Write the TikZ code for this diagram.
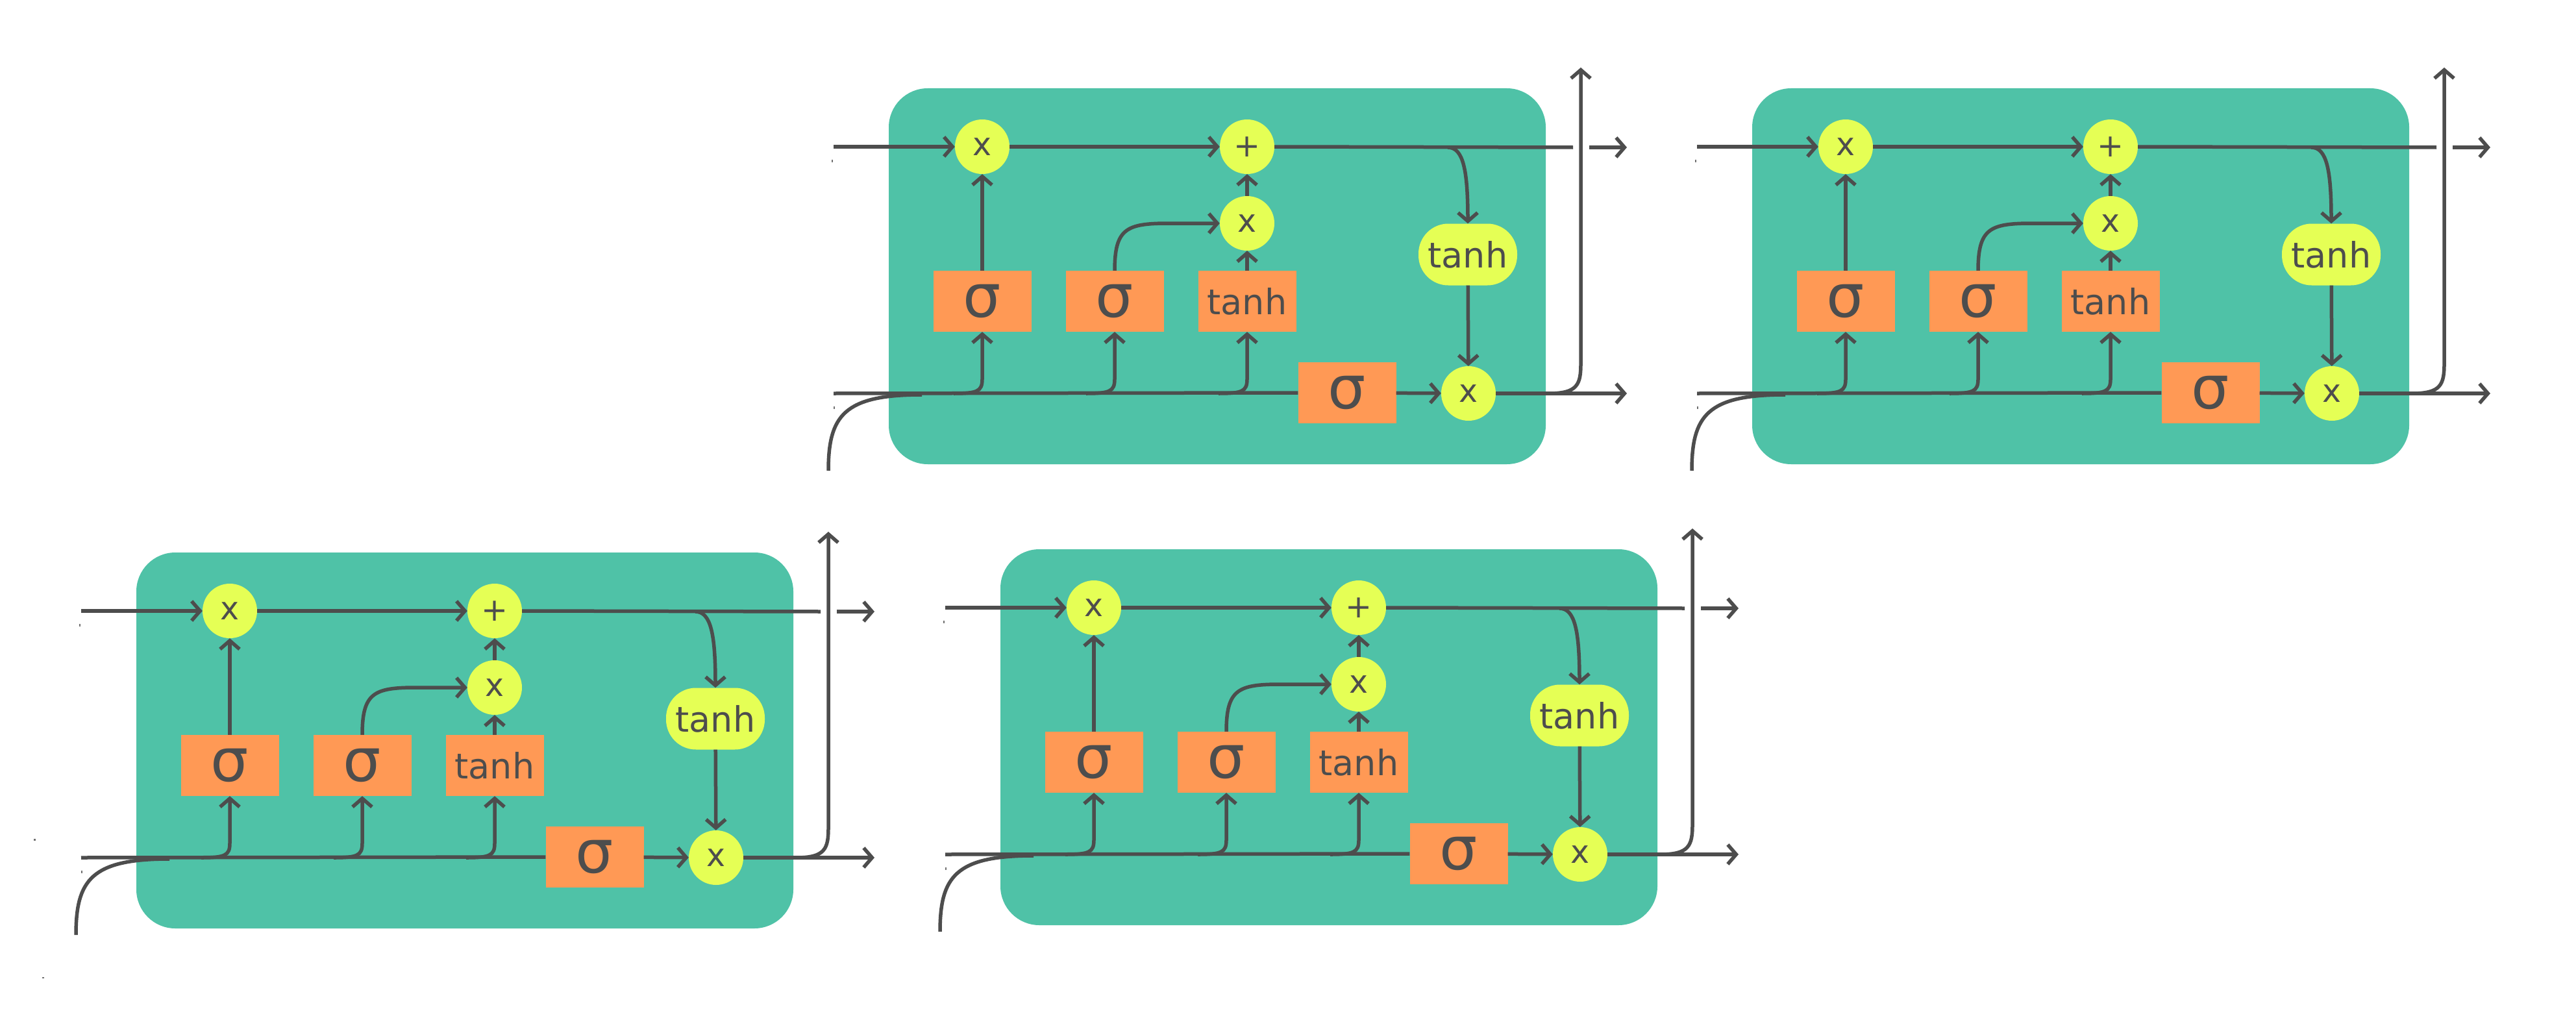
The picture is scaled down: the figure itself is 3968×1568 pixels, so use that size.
\documentclass[tikz,border=0pt]{standalone}
\usepackage{fontspec}
\setmainfont{DejaVu Sans}
\usetikzlibrary{arrows.meta}
\definecolor{cellteal}{HTML}{4FC2A7}
\definecolor{gateorange}{HTML}{FF9955}
\definecolor{opyellow}{HTML}{E5FF55}
\definecolor{inkgrey}{HTML}{4D4D4D}
\tikzset{
  cellbox/.style={fill=cellteal, rounded corners=60pt},
  opnode/.style={circle, fill=opyellow, minimum size=84pt, inner sep=0pt, text=inkgrey, font=\fontsize{49}{49}\selectfont},
  gatebox/.style={rectangle, fill=gateorange, minimum width=151pt, minimum height=94pt, inner sep=0pt, text=inkgrey},
  siglabel/.style={font=\fontsize{92}{92}\selectfont},
  tanhlabel/.style={font=\fontsize{54}{54}\selectfont},
  actnode/.style={rectangle, rounded corners=46pt, fill=opyellow, minimum width=152pt, minimum height=95pt, inner sep=0pt, text=inkgrey, font=\fontsize{54}{54}\selectfont},
  flow/.style={draw=inkgrey, line width=5.5pt, -{Straight Barb[length=13pt,width=30pt]}},
  plain/.style={draw=inkgrey, line width=5.5pt},
  speck/.style={fill=inkgrey!80}
}
\newcommand\lstmcell[3]{%
\begin{scope}[shift={(#2,#3)}]
  \fill[cellbox] (1369,136) rectangle (2381,715);
  \node[opnode] (#1fx) at (1513,226) {x};
  \node[opnode] (#1pl) at (1921,226) {+};
  \node[opnode] (#1ix) at (1921,344) {x};
  \node[gatebox,siglabel] (#1s1) at (1513,464) {σ};
  \node[gatebox,siglabel] (#1s2) at (1717,464) {σ};
  \node[gatebox,tanhlabel] (#1tb) at (1921,464) {tanh};
  \node[gatebox,siglabel] (#1s3) at (2075,605) {σ};
  \node[opnode] (#1ox) at (2262,606) {x};
  \node[actnode] (#1th) at (2261,392) {tanh};
  \coordinate (#1inU) at (1284,226);
  \coordinate (#1inL) at (1284,606);
  \coordinate (#1gapL) at (2423,227);
  \coordinate (#1gapR) at (2448,227);
  \coordinate (#1outU) at (2506,227);
  \coordinate (#1outL) at (2506,606);
  \coordinate (#1outV) at (2435,104);
  \coordinate (#1upS) at (2386,606);
  \coordinate (#1brU) at (2230,227);
  \coordinate (#1curS) at (1276,725);
  \coordinate (#1curE) at (1420,608);
  \coordinate (#1t1) at (1469,606);
  \coordinate (#1t2) at (1673,606);
  \coordinate (#1t3) at (1877,606);
  \fill[speck] (1281,246) rectangle (1283,250);
  \fill[speck] (1284,626) rectangle (1286,630);
  % connectors
  \draw[flow] (#1inU) -- (#1fx);
  \draw[flow] (#1fx) -- (#1pl);
  \draw[flow] (#1s1) -- (#1fx);
  \draw[flow] (#1ix) -- (#1pl);
  \draw[flow] (#1tb) -- (#1ix);
  \draw[flow] (#1s2.north) .. controls (1717,352) and (1735,344) .. (1800,344) -- (#1ix.west);
  \draw[plain] (#1pl.east) -- (#1gapL);
  \draw[flow] (#1gapR) -- (#1outU);
  \draw[flow] (#1brU) .. controls (2254,227) and (2261,262) .. (#1th.north);
  \draw[flow] (#1th) -- (#1ox);
  \draw[plain] (#1inL) -- (#1s3.west);
  \draw[flow] (#1s3) -- (#1ox);
  \draw[flow] (#1ox) -- (#1outL);
  \draw[flow] (#1upS) .. controls (2430,606) and (2435,592) .. (2435,560) -- (#1outV);
  \draw[plain] (#1curS) .. controls (1276,640) and (1300,608) .. (#1curE);
  \draw[flow] (#1t1) .. controls (1505,606) and (1513,603) .. (1513,584) -- (#1s1.south);
  \draw[flow] (#1t2) .. controls (1709,606) and (1717,603) .. (1717,584) -- (#1s2.south);
  \draw[flow] (#1t3) .. controls (1913,606) and (1921,603) .. (1921,584) -- (#1tb.south);
\end{scope}}
\begin{document}
\begin{tikzpicture}[x=1pt,y=-1pt]
  \useasboundingbox[fill=white] (0,0) rectangle (3968,1568);
  \lstmcell{a}{0}{0}
  \lstmcell{b}{1330}{0}
  \lstmcell{c}{-1159}{715}
  \lstmcell{d}{172}{710}
  \fill[speck] (52,1292) rectangle (55,1295);
  \fill[speck] (65,1505) rectangle (68,1507);
\end{tikzpicture}
\end{document}
